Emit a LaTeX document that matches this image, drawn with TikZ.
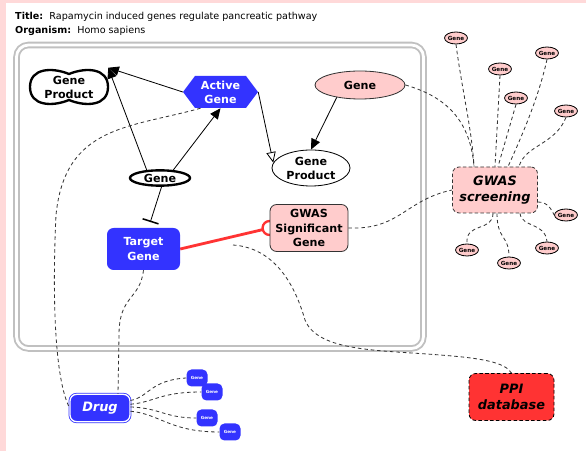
\documentclass[tikz,border=0pt]{standalone}
\usepackage{fontspec}
\setmainfont{DejaVu Sans}
\usetikzlibrary{arrows.meta,shapes.geometric}

\definecolor{pagepink}{HTML}{FFD9D9}
\definecolor{genepink}{HTML}{FFCCCC}
\definecolor{geneblue}{HTML}{3333FF}
\definecolor{ppired}{HTML}{FF3333}
\definecolor{boxgray}{HTML}{C0C0C0}
\definecolor{linkgray}{HTML}{333333}

\pgfdeclarelayer{back}
\pgfdeclarelayer{links}
\pgfsetlayers{back,links,main}

\tikzset{
  lbl/.style={font=\fontsize{9.5}{12}\selectfont\bfseries, align=center, inner sep=0pt},
  bigital/.style={font=\fontsize{11}{13.5}\selectfont\bfseries\itshape, align=center, inner sep=0pt},
  smallpink/.style={ellipse, draw=black, fill=genepink, line width=0.7pt,
    minimum width=6.6mm, minimum height=3.6mm, inner sep=0pt,
    font=\fontsize{4.8}{5}\selectfont\bfseries},
  smallblue/.style={rectangle, rounded corners=1.5mm, fill=geneblue, text=white,
    minimum width=6.3mm, minimum height=5.1mm, inner sep=0pt,
    font=\fontsize{3.6}{4}\selectfont\bfseries},
  link/.style={draw=linkgray, line width=0.7pt, dash pattern=on 3pt off 2.5pt},
  act/.style={-{Triangle[length=3.2mm,width=2.8mm]}, line width=0.7pt},
  actopen/.style={-{Triangle[open,length=3.2mm,width=2.8mm,fill=white]}, line width=0.7pt},
  inh/.style={-{Bar[width=5mm,line width=1.3pt]}, line width=0.7pt},
}

\begin{document}
\begin{tikzpicture}[x=0.3mm, y=-0.3mm]
  \useasboundingbox (0,0) rectangle (586,451);

  % Page and compartment
  \begin{pgfonlayer}{back}
    \fill[pagepink] (0,0) rectangle (586,451);
    \fill[white] (6,3) rectangle (586,451);
    \draw[boxgray, line width=1.6pt, double=white, double distance=2.4pt, rounded corners=3.6mm]
      (16.5,45) rectangle (423.5,348.5);
  \end{pgfonlayer}

  % Title
  \node[anchor=base west, inner sep=0pt, font=\fontsize{8.2}{9.5}\selectfont] (title) at (15,20)
    {\textbf{Title:}\ \ Rapamycin induced genes regulate pancreatic pathway};
  \node[anchor=base west, inner sep=0pt, font=\fontsize{8.2}{9.5}\selectfont] (organism) at (15,34)
    {\textbf{Organism:}\ \ Homo sapiens};

  % Gene Product (complex)
  \draw[line width=2pt, fill=white] (30,87) .. controls (30,68) and (52,67) .. (69,74)
    .. controls (86,67) and (108,68) .. (108,87)
    .. controls (108,106) and (86,107) .. (69,100)
    .. controls (52,107) and (30,106) .. cycle;
  \node[lbl, minimum width=23.4mm, minimum height=11.4mm] (gprod) at (69,87) {Gene\\Product};

  % Active Gene (hexagon)
  \fill[geneblue] (183,92) -- (195,76) -- (246,76) -- (258,92) -- (246,108) -- (195,108) -- cycle;
  \node[lbl, text=white, minimum width=22.5mm, minimum height=9.6mm] (ag) at (220.5,92) {Active\\Gene};

  % Gene (pink) and Gene Product (ellipse)
  \node[lbl, ellipse, draw=linkgray, fill=genepink, line width=0.7pt,
    minimum width=27mm, minimum height=8.4mm] (gpink) at (360,85) {Gene};
  \node[lbl, ellipse, draw=black, fill=white, line width=0.7pt,
    minimum width=23.4mm, minimum height=10.8mm] (prod) at (311,168) {Gene\\Product};

  % Gene (black)
  \node[lbl, ellipse, draw=black, fill=white, line width=2pt,
    minimum width=18mm, minimum height=4.6mm] (gene) at (160,178) {Gene};

  % Target Gene and GWAS Significant Gene
  \node[lbl, rectangle, rounded corners=2mm, fill=geneblue, text=white,
    minimum width=21.9mm, minimum height=12.6mm] (tg) at (143.5,249) {Target\\Gene};
  \node[lbl, rectangle, rounded corners=2mm, draw=linkgray, fill=genepink, line width=0.7pt,
    minimum width=23.4mm, minimum height=14.1mm] (gsig) at (309,228) {GWAS\\Significant\\Gene};

  % GWAS screening
  \node[bigital, rectangle, rounded corners=2mm, draw=linkgray, fill=genepink, line width=0.7pt,
    dash pattern=on 3pt off 2pt, minimum width=25.5mm, minimum height=13.8mm] (gs) at (495,190)
    {GWAS\\screening};
  \node[smallpink] (s1) at (456,38) {Gene};
  \node[smallpink] (s2) at (500,69) {Gene};
  \node[smallpink] (s3) at (547,53) {Gene};
  \node[smallpink] (s4) at (516,98) {Gene};
  \node[smallpink] (s5) at (566,111) {Gene};
  \node[smallpink] (s6) at (566,215) {Gene};
  \node[smallpink] (s7) at (547,248) {Gene};
  \node[smallpink] (s8) at (509,263) {Gene};
  \node[smallpink] (s9) at (467,250) {Gene};

  % Drug
  \node[bigital, rectangle, rounded corners=2mm, fill=geneblue, text=white, draw=geneblue,
    line width=0.7pt, double=white, double distance=1.1pt,
    minimum width=18mm, minimum height=8.2mm] (drug) at (100,408) {Drug};
  \node[smallblue] (b1) at (197,378) {Gene};
  \node[smallblue] (b2) at (212,392) {Gene};
  \node[smallblue] (b3) at (207,418) {Gene};
  \node[smallblue] (b4) at (230,432) {Gene};

  % PPI database
  \node[bigital, rectangle, rounded corners=2mm, draw=black, fill=ppired, line width=0.7pt,
    dash pattern=on 3pt off 2pt, minimum width=25.5mm, minimum height=14.1mm] (ppi) at (511.5,397)
    {PPI\\database};

  % Interactions
  \draw[act] (gene.149) -- (gprod.north east);
  \draw[act] (ag.west) -- (gprod.north east);
  \draw[act] (gene.31) -- (ag.south);
  \draw[actopen] (ag.east) -- (prod.172);
  \draw[act] (gpink.208) -- (prod.north);
  \draw[inh, shorten >=1.8mm] (gene.-80) -- ([xshift=1.5mm]tg.north);

  \begin{pgfonlayer}{links}
    \draw[ppired, line width=2.4pt] (tg.east) -- (gsig.west);
    \draw[ppired, line width=2pt, fill=white] (gsig.west) circle (2.1mm);
  \end{pgfonlayer}

  % Dashed links
  \coordinate (ppilink) at (233,245);
  \draw[link] ([xshift=-6mm]ag.south) .. controls (130,128) and (65,125) .. (56,215)
    .. controls (52,300) and (55,380) .. (drug.west);
  \draw[link] (tg.south) .. controls (140,300) and (119,295) .. (119,335)
    -- ([xshift=5.4mm]drug.north);
  \draw[link] (ppilink) .. controls (275,248) and (295,285) .. (305,320)
    .. controls (318,352) and (380,350) .. (440,355)
    .. controls (480,358) and (505,362) .. (ppi.north);
  \draw[link] (gpink.east) .. controls (440,95) and (470,115) .. ([xshift=-6.3mm]gs.north);
  \draw[link] (gsig.east) .. controls (400,230) and (405,200) .. (gs.west);

  % GWAS screening genes
  \draw[link] (s1.south) .. controls (462,90) and (472,130) .. ([xshift=-6.3mm]gs.north);
  \draw[link] (s2.south) -- (gs.north);
  \draw[link] (s3.south) .. controls (538,100) and (520,140) .. ([xshift=3.9mm]gs.north);
  \draw[link] (s4.south) -- ([xshift=0.9mm]gs.north);
  \draw[link] (s5.south) .. controls (555,145) and (525,145) .. ([xshift=7.2mm]gs.north);
  \draw[link] ([yshift=-3.6mm]gs.east) .. controls (548,202) and (552,210) .. (s6.west);
  \draw[link] ([xshift=7.5mm]gs.south) .. controls (522,228) and (545,222) .. (s7.north);
  \draw[link] ([xshift=0.6mm]gs.south) .. controls (497,240) and (509,235) .. (s8.north);
  \draw[link] ([xshift=-0.6mm]gs.south) .. controls (493,232) and (465,222) .. (s9.north);

  % Drug genes
  \draw[link] (drug.14) .. controls (148,398) and (150,380) .. (b1.west);
  \draw[link] (drug.7) .. controls (155,402) and (160,392) .. (b2.west);
  \draw[link] (drug.2) .. controls (160,408) and (165,418) .. (b3.west);
  \draw[link] (drug.-6) .. controls (160,414) and (170,432) .. (b4.west);
\end{tikzpicture}
\end{document}
